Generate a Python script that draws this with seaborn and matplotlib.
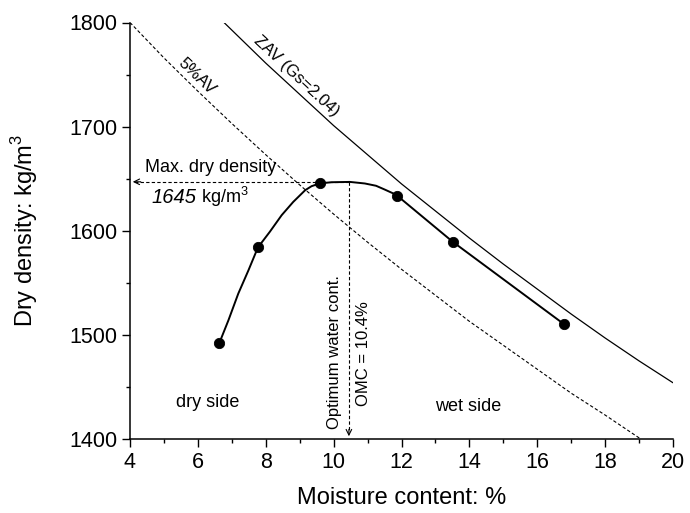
import numpy as np
import pandas as pd
import seaborn as sns
import matplotlib
matplotlib.use("Agg")
import matplotlib.pyplot as plt
from matplotlib.ticker import MultipleLocator

# measured compaction points
w_test = [6.63, 7.77, 9.6, 11.88, 13.51, 16.8]
rho_test = [1492, 1584, 1645.5, 1633.5, 1589.4, 1510]

# fitted compaction curve
w_fit = [6.63, 6.90, 7.19, 7.49, 7.77, 8.12, 8.47, 8.81, 9.16, 9.35, 9.6, 9.94,
         10.48, 10.92, 11.25, 11.51, 11.76, 11.88, 13.51, 16.8]
rho_fit = [1492, 1514, 1539.6, 1562, 1584, 1599, 1615, 1627.7, 1638.9, 1642.8,
           1645.5, 1646.6, 1646.9, 1645.4, 1643.2, 1639.5, 1635.8, 1633.5, 1589.4, 1510]

# zero air voids line
w_zav = [6.77, 8, 9, 10, 11, 12, 13, 14, 15, 16, 17, 18, 19, 20]
rho_zav = [1800, 1761, 1731, 1701, 1673, 1645, 1619, 1593, 1568, 1544, 1520,
           1497, 1475, 1454]

# 5% air voids line
w_av5 = [4, 5, 6, 7, 8, 9, 10, 11, 12, 13, 14, 15, 16, 17, 18, 19.05]
rho_av5 = [1800, 1766, 1734, 1703, 1673, 1644, 1616, 1589, 1563, 1538, 1513,
           1490, 1467, 1444, 1423, 1400]

omc = 10.45
max_dd = 1647

sns.set_style("ticks")
plt.rcParams['font.family'] = ['Liberation Sans', 'DejaVu Sans']
plt.rcParams['mathtext.fontset'] = 'custom'
plt.rcParams['mathtext.rm'] = 'Liberation Sans'
for k in ['text.color', 'axes.labelcolor', 'xtick.color', 'ytick.color', 'axes.edgecolor']:
    plt.rcParams[k] = 'black'

fig = plt.figure(figsize=(6.9, 5.13), dpi=100)
ax = fig.add_axes([130/690, 1 - 439/513, 543/690, 416.5/513])

df_fit = pd.DataFrame({'w': w_fit, 'rho': rho_fit})
df_test = pd.DataFrame({'w': w_test, 'rho': rho_test})
df_zav = pd.DataFrame({'w': w_zav, 'rho': rho_zav})
df_av5 = pd.DataFrame({'w': w_av5, 'rho': rho_av5})

sns.lineplot(data=df_zav, x='w', y='rho', color='black', lw=0.9, sort=False, ax=ax)
sns.lineplot(data=df_av5, x='w', y='rho', color='black', lw=0.8, sort=False, ax=ax,
             linestyle=(0, (3, 2)))
sns.lineplot(data=df_fit, x='w', y='rho', color='black', lw=1.4, sort=False, ax=ax)
sns.scatterplot(data=df_test, x='w', y='rho', color='black', s=55, edgecolor='black',
                ax=ax, zorder=5)

# OMC / max dry density guide lines
ax.plot([omc, 4.15], [max_dd, max_dd], color='black', lw=0.8, linestyle=(0, (3, 2)))
ax.plot([omc, omc], [max_dd, 1408], color='black', lw=0.8, linestyle=(0, (3, 2)))
ax.annotate('', xy=(4.0, max_dd), xytext=(4.4, max_dd),
            arrowprops=dict(arrowstyle='->', color='black', lw=0.8))
ax.annotate('', xy=(omc, 1400), xytext=(omc, 1412),
            arrowprops=dict(arrowstyle='->', color='black', lw=0.8))

ax.set_xlim(4, 20)
ax.set_ylim(1400, 1800)
ax.xaxis.set_major_locator(MultipleLocator(2))
ax.xaxis.set_minor_locator(MultipleLocator(1))
ax.yaxis.set_major_locator(MultipleLocator(100))
ax.yaxis.set_minor_locator(MultipleLocator(50))
ax.tick_params(which='major', length=6, width=1, labelsize=15.5, pad=3, colors='black')
ax.tick_params(which='minor', length=3, width=1, colors='black')
for s in ['left', 'bottom']:
    ax.spines[s].set_linewidth(1.1)
    ax.spines[s].set_color('black')
sns.despine(ax=ax)

ax.set_xlabel('Moisture content: %', fontsize=17)
ax.set_ylabel('Dry density: kg/m$^3$', fontsize=17)
ax.yaxis.set_label_coords(-0.165, 0.5)
ax.xaxis.set_label_coords(0.5, -0.115)

ax.text(4.44, 1661, 'Max. dry density', fontsize=13, ha='left', va='center')
ax.text(4.64, 1626.4, '1645', fontsize=14.5, style='italic', ha='left', va='baseline')
ax.text(6.08, 1626.4, 'kg/m$^3$', fontsize=13, ha='left', va='baseline')
ax.text(5.97, 1748.6, '5%AV', fontsize=12, rotation=-44, ha='center', va='center',
        rotation_mode='anchor')
ax.text(8.92, 1748.6, 'ZAV (Gs=2.04)', fontsize=12, rotation=-43, ha='center',
        va='center', rotation_mode='anchor')
ax.text(10.04, 1483.5, 'Optimum water cont.', fontsize=12, rotation=90,
        ha='center', va='center')
ax.text(10.87, 1482.2, 'OMC = 10.4%', fontsize=12, rotation=90,
        ha='center', va='center')
ax.text(6.30, 1435, 'dry side', fontsize=13, ha='center', va='center')
ax.text(13.96, 1431, 'wet side', fontsize=13, ha='center', va='center')

fig.savefig('out.png', dpi=100)
